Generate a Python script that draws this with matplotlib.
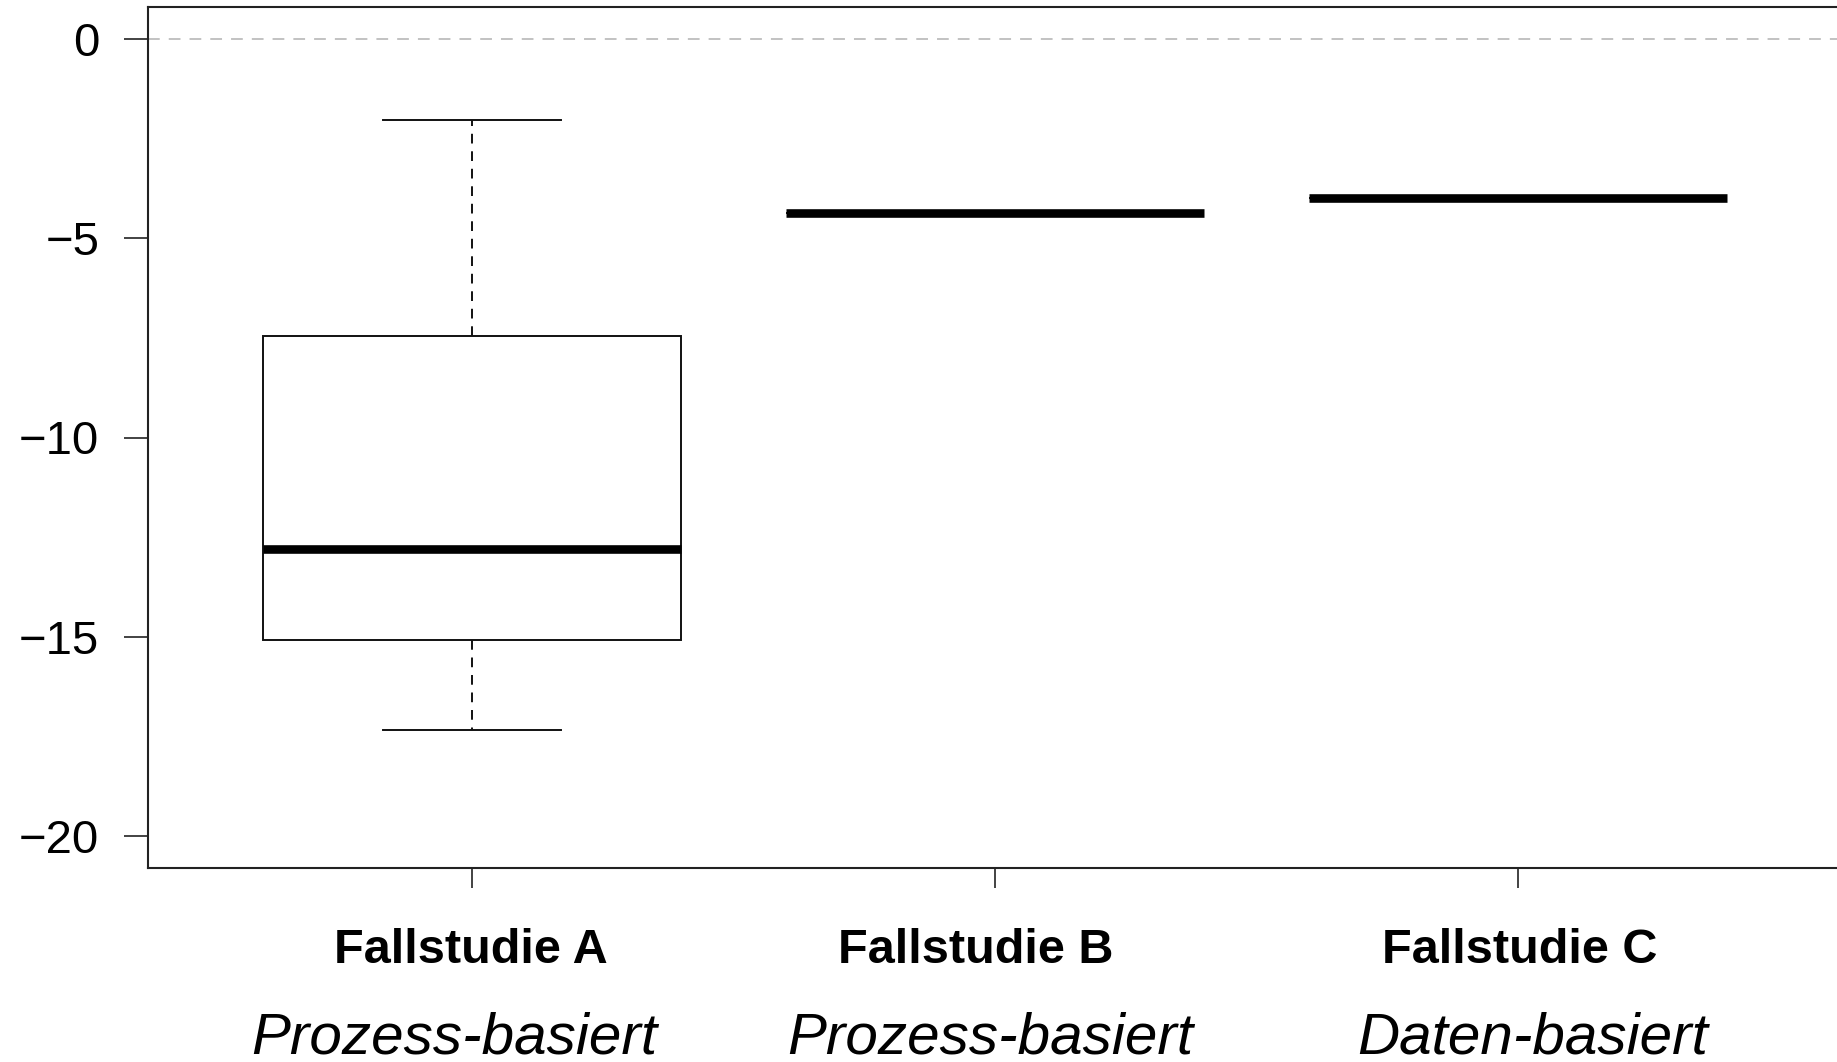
import matplotlib
matplotlib.use("Agg")
import matplotlib.pyplot as plt
import matplotlib.transforms as mtransforms

plt.rcParams['font.family'] = ['Liberation Sans', 'DejaVu Sans']

# five-number summaries per case study (B and C have a single value each)
cases = ['Fallstudie A', 'Fallstudie B', 'Fallstudie C']
approach = ['Prozess-basiert', 'Prozess-basiert', 'Daten-basiert']
whisker_low = [-17.33, -4.38, -4.0]
q1 = [-15.07, -4.38, -4.0]
median = [-12.8, -4.38, -4.0]
q3 = [-7.46, -4.38, -4.0]
whisker_high = [-2.03, -4.38, -4.0]
y_ticks = [0, -5, -10, -15, -20]

# small horizontal nudges of the two-line group labels
bold_dx = [-0.002, -0.037, 0.004]
italic_dx = [-0.035, -0.010, 0.029]

fig = plt.figure(figsize=(18.37, 10.62), dpi=100)
ax = fig.add_axes([148 / 1837, 1 - 868 / 1062, (1842 - 148) / 1837, (868 - 7) / 1062])

stats = []
for i, name in enumerate(cases):
    stats.append(dict(label=name, whislo=whisker_low[i], q1=q1[i], med=median[i],
                      q3=q3[i], whishi=whisker_high[i], fliers=[]))

positions = [1, 2, 3]
ax.axhline(0, color='#bdbdbd', lw=1.3, dashes=(6.5, 5), zorder=0)
ax.bxp(stats, positions=positions, widths=0.8, capwidths=0.34,
       patch_artist=True, showfliers=False,
       boxprops=dict(facecolor='white', edgecolor='#111111', linewidth=1.4),
       whiskerprops=dict(color='#111111', linewidth=1.4, linestyle=(0, (5, 4))),
       capprops=dict(color='#111111', linewidth=1.4),
       medianprops=dict(color='black', linewidth=6.2, solid_capstyle='butt'))

ax.set_xlim(0.38, 3.62)
ax.set_ylim(-20.8, 0.8)
ax.set_yticks(y_ticks)
ax.set_xticks(positions)
ax.set_xticklabels([''] * 3)
ax.tick_params(axis='y', length=17, width=1.2, pad=18, labelsize=34, color='#222222')
ax.tick_params(axis='x', length=14.5, width=1.2, color='#222222')
for side in ['left', 'top', 'bottom', 'right']:
    ax.spines[side].set_linewidth(1.5)
    ax.spines[side].set_color('#222222')

# group labels under the axis: bold case name, italic approach
trans = mtransforms.blended_transform_factory(ax.transData, fig.transFigure)
for i in range(len(cases)):
    ax.text(positions[i] + bold_dx[i], 1 - 963 / 1062, cases[i], transform=trans,
            ha='center', va='baseline', fontsize=35, fontweight='bold', clip_on=False)
    ax.text(positions[i] + italic_dx[i], 1 - 1054 / 1062, approach[i], transform=trans,
            ha='center', va='baseline', fontsize=42, fontstyle='italic', clip_on=False)

fig.savefig('out.png', dpi=100)
